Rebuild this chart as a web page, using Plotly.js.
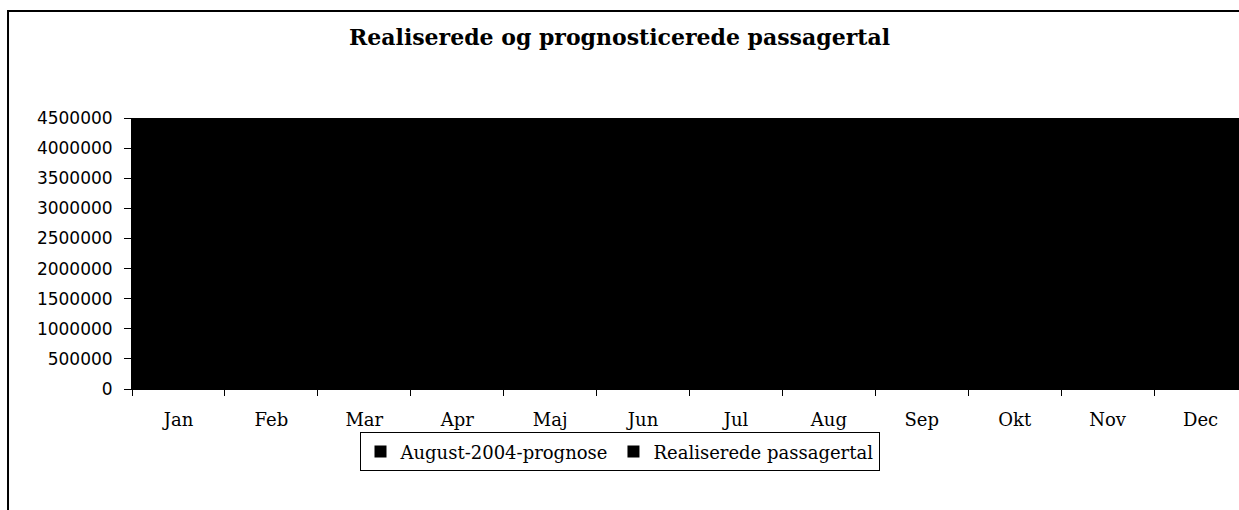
<!DOCTYPE html>
<html>
<head>
<meta charset="utf-8">
<script src="https://cdn.plot.ly/plotly-3.0.1.min.js"></script>
<style>
  body { margin: 0; background: #fff; }
  #chart { width: 1239px; height: 510px; }
</style>
</head>
<body>
<div id="chart"></div>
<script>
// months (x categories)
var months = ["Jan", "Feb", "Mar", "Apr", "Maj", "Jun", "Jul", "Aug", "Sep", "Okt", "Nov", "Dec"];

var prognose = [2730000, 2690000, 3340000, 2750000, 2740000, 2540000, 2250000, 2550000, 3230000, 3340000, 4110000, 4220000];
var realiseret = [2700000, 2680000, 3330000, 2700000, 2680000, 2530000, 2250000, 2580000, 2930000, 3100000, null, null];

var yTicks = [0, 500000, 1000000, 1500000, 2000000, 2500000, 3000000, 3500000, 4000000, 4500000];

var trace1 = {
  x: months,
  y: prognose,
  type: "bar",
  name: "August-2004-prognose",
  marker: { color: "#000000" }
};

var trace2 = {
  x: months,
  y: realiseret,
  type: "bar",
  name: "Realiserede passagertal",
  marker: { color: "#000000" }
};

var data = [trace1, trace2];

var layout = {
  width: 1239,
  height: 510,
  margin: { l: 132, r: 0, t: 118, b: 121 },
  paper_bgcolor: "#ffffff",
  plot_bgcolor: "#000000",
  barmode: "group",
  bargap: 0.35,
  bargroupgap: 0,
  title: {
    text: "<b>Realiserede og prognosticerede passagertal</b>",
    font: { family: "DejaVu Serif", size: 22, color: "#000" },
    xref: "container", x: 0.5, xanchor: "center",
    yref: "container", y: 0.927, yanchor: "middle"
  },
  xaxis: {
    type: "category",
    range: [-0.5, 11.414],
    showline: true, linecolor: "#000", linewidth: 1,
    ticks: "outside", tickson: "boundaries", ticklen: 6, tickcolor: "#000",
    ticklabelstandoff: 14,
    tickfont: { family: "DejaVu Serif", size: 18, color: "#000" },
    showgrid: false
  },
  yaxis: {
    range: [0, 4500000],
    tickvals: yTicks,
    ticktext: yTicks.map(v => String(v)),
    showline: true, linecolor: "#000", linewidth: 1,
    ticks: "outside", ticklen: 7, tickcolor: "#000",
    ticklabelstandoff: 8,
    tickfont: { family: "DejaVu Sans", size: 17, color: "#000" },
    showgrid: false, zeroline: false
  },
  showlegend: true,
  legend: {
    orientation: "h",
    xref: "container", x: 0.5, xanchor: "center",
    yref: "container", y: 0.114, yanchor: "middle",
    bordercolor: "#000", borderwidth: 1,
    font: { family: "DejaVu Serif", size: 18, color: "#000" },
    itemwidth: 30
  },
  shapes: [{
    type: "rect", xref: "paper", yref: "paper",
    x0: -0.112, x1: 1.05, y0: -0.6, y1: 1.395,
    line: { color: "#000", width: 2 }, fillcolor: "rgba(0,0,0,0)"
  }]
};

Plotly.newPlot("chart", data, layout, { displayModeBar: false });
</script>
</body>
</html>
